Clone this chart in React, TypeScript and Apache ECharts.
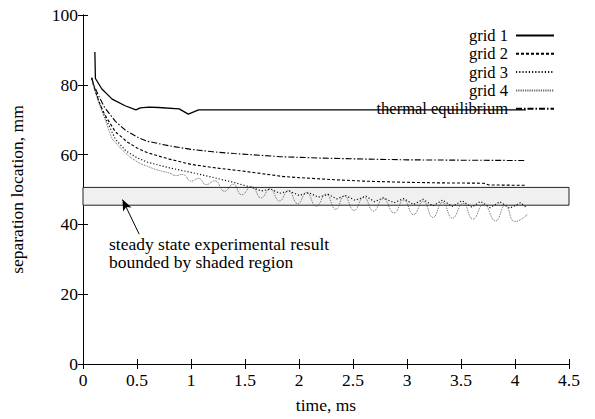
import React, { useEffect, useRef } from "react";
import * as echarts from "echarts";

const xTicks = [0, 0.5, 1, 1.5, 2, 2.5, 3, 3.5, 4, 4.5];
const yTicks = [0, 20, 40, 60, 80, 100];

const seriesNames = ["grid 1", "grid 2", "grid 3", "grid 4", "thermal equilibrium"];

const grid1: [number, number][] = [
  [0.11, 89.4], [0.115, 81.8], [0.175, 78.8], [0.27, 75.9], [0.39, 74.0], [0.49, 72.8],
  [0.53, 73.4], [0.61, 73.6], [0.7, 73.5], [0.89, 73.1], [0.975, 71.6], [1.07, 72.8],
  [2.0, 72.8], [3.0, 72.8], [4.1, 72.8],
];

const grid2: [number, number][] = [
  [0.08, 82], [0.1, 79.5], [0.15, 75], [0.2, 71.5], [0.3, 66.5], [0.375, 64.6], [0.4, 63.8],
  [0.5, 61.9], [0.6, 60.5], [0.8, 58.7], [1.0, 57.2], [1.2, 56.3], [1.5, 55.2], [1.86, 53.7],
  [2.0, 53.4], [2.33, 52.8], [2.6, 52.4], [2.94, 52.1], [3.3, 51.9], [3.71, 51.8], [3.76, 51.3],
  [4.1, 51.2],
];

const grid3: [number, number][] = [
  [0.08, 82], [0.1, 79.8], [0.15, 75], [0.2, 71], [0.3, 64.4], [0.4, 61], [0.5, 59.1],
  [0.6, 57.8], [0.8, 56.2], [1.0, 54.9], [1.2, 53.5], [1.4, 52.0], [1.56, 50.6], [1.65, 49.6],
  [1.74, 50.1], [1.82, 48.9], [1.91, 49.6], [2.0, 48.3], [2.09, 49.1], [2.18, 47.8],
  [2.27, 48.6], [2.35, 47.3], [2.43, 48.3], [2.52, 46.9], [2.62, 48.1], [2.7, 46.5],
  [2.78, 47.6], [2.88, 46.2], [2.97, 47.4], [3.06, 45.7], [3.15, 47.2], [3.24, 45.3],
  [3.33, 47.0], [3.42, 45.1], [3.51, 46.8], [3.6, 44.9], [3.68, 46.6], [3.77, 44.8],
  [3.86, 46.5], [3.95, 44.6], [4.05, 46.2], [4.1, 45.0],
];

const grid4: [number, number][] = [
  [0.08, 82], [0.1, 79.5], [0.15, 74.5], [0.2, 70.5], [0.27, 64.6], [0.3, 63.5], [0.4, 60.3],
  [0.5, 58], [0.6, 56.6], [0.7, 55.5], [0.8, 54.7], [0.86, 54.0], [0.92, 54.3], [1.005, 52.4],
  [1.07, 53.2], [1.14, 51.4], [1.22, 52.5], [1.31, 49.5], [1.39, 51.5], [1.47, 48.5],
  [1.56, 50.9], [1.65, 47.6], [1.73, 50.2], [1.82, 46.7], [1.9, 49.7], [1.99, 45.9],
  [2.07, 49.2], [2.16, 45.2], [2.25, 48.7], [2.34, 44.3], [2.42, 48.2], [2.51, 44.0],
  [2.6, 47.8], [2.69, 43.8], [2.78, 47.4], [2.88, 43.3], [2.97, 47.0], [3.06, 42.8],
  [3.15, 46.6], [3.24, 42.0], [3.33, 46.3], [3.42, 41.8], [3.52, 46.0], [3.61, 41.5],
  [3.71, 45.8], [3.82, 41.0], [3.91, 45.5], [4.0, 40.8], [4.12, 43.0],
];

const thermal: [number, number][] = [
  [0.08, 82], [0.1, 80], [0.15, 76.5], [0.2, 73.5], [0.3, 69.5], [0.4, 66.8], [0.53, 64.6],
  [0.6, 63.8], [0.8, 62.5], [1.0, 61.5], [1.2, 60.8], [1.4, 60.3], [1.83, 59.4], [2.2, 59.0],
  [2.63, 58.7], [3.0, 58.5], [3.5, 58.4], [4.1, 58.3],
];

const bandLow = 45.5;
const bandHigh = 50.6;
const arrowTail: [number, number] = [0.52, 37.2];
const arrowHead: [number, number] = [0.366, 47.1];

const FONT = "'Liberation Serif', 'Times New Roman', 'DejaVu Serif', serif";
const FS = 17.5;
const LEGEND_FS = 16.5;

export default function App() {
  const ref = useRef<HTMLDivElement>(null);
  useEffect(() => {
    if (!ref.current) return;
    const chart = echarts.init(ref.current, null, { renderer: "svg" });
    const axisCommon = {
      axisLine: { show: true, lineStyle: { color: "#000", width: 1 } },
      axisTick: { show: true, inside: true, length: 5, lineStyle: { color: "#000" } },
      splitLine: { show: false },
    };
    const line = (name: string, data: [number, number][], type: any, width: number, color: string, extra: any = {}) => ({
      name,
      type: "line",
      data,
      symbol: "none",
      showSymbol: false,
      lineStyle: { color, width, type, cap: "butt" },
      itemStyle: { color, opacity: 0 },
      ...extra,
    });
    chart.setOption({
      animation: false,
      textStyle: { fontFamily: FONT, color: "#000" },
      grid: { left: 81, right: 26, top: 15, bottom: 51, containLabel: false },
      legend: {
        orient: "vertical",
        right: 40,
        top: 27,
        align: "right",
        itemWidth: 38,
        itemHeight: 10,
        itemGap: 1.3,
        padding: 0,
        itemStyle: { opacity: 0 },
        textStyle: { fontFamily: FONT, fontSize: LEGEND_FS, lineHeight: 16.5, color: "#000", padding: [0, 3, 0, 0] },
        data: seriesNames,
      },
      xAxis: [
        {
          type: "value",
          min: 0,
          max: 4.5,
          interval: 0.5,
          name: "time, ms",
          nameLocation: "middle",
          nameGap: 32,
          nameTextStyle: { fontFamily: FONT, fontSize: FS, color: "#000" },
          axisLabel: { fontFamily: FONT, fontSize: FS, color: "#000", margin: 7, formatter: (v: number) => String(v) },
          ...axisCommon,
        },
        {
          type: "value",
          position: "top",
          min: 0,
          max: 4.5,
          interval: 0.5,
          axisLabel: { show: false },
          ...axisCommon,
        },
      ],
      yAxis: [
        {
          type: "value",
          min: 0,
          max: 100,
          interval: 20,
          name: "separation location, mm",
          nameLocation: "middle",
          nameGap: 57,
          nameTextStyle: { fontFamily: FONT, fontSize: FS, color: "#000" },
          axisLabel: { fontFamily: FONT, fontSize: FS, color: "#000", margin: 5 },
          ...axisCommon,
        },
        {
          type: "value",
          position: "right",
          min: 0,
          max: 100,
          interval: 20,
          axisLabel: { show: false },
          ...axisCommon,
        },
      ],
      series: [
        line("grid 1", grid1, "solid", 1.3, "#000", {
          z: 5,
          markArea: {
            silent: true,
            itemStyle: { color: "#f0f0f0", borderColor: "#222", borderWidth: 1, opacity: 1 },
            data: [[{ coord: [0, bandHigh] }, { coord: [4.5, bandLow] }]],
            z: 1,
          },
          markLine: {
            silent: true,
            symbol: ["none", "arrow"],
            symbolSize: [7, 11],
            label: { show: false },
            lineStyle: { color: "#000", width: 1, type: "solid" },
            itemStyle: { opacity: 1 },
            data: [[{ coord: arrowTail }, { coord: arrowHead }]],
          },
        }),
        line("grid 2", grid2, [3, 2], 1.1, "#000"),
        line("grid 3", grid3, [1.2, 2], 1.2, "#111"),
        line("grid 4", grid4, [0.8, 1], 0.9, "#444", { smooth: 0.5 }),
        line("thermal equilibrium", thermal, [6, 2, 1.5, 2], 1.1, "#000"),
      ],
      graphic: [
        {
          type: "text",
          left: 109,
          top: 235,
          style: {
            text: "steady state experimental result\nbounded by shaded region",
            fontFamily: FONT,
            fontSize: FS,
            fill: "#000",
            lineHeight: 18,
          },
        },
      ],
    });
    return () => chart.dispose();
  }, []);
  return (
    <div
      ref={ref}
      style={{ position: "fixed", left: 0, top: 0, width: 595, height: 419, background: "#fff" }}
    />
  );
}
